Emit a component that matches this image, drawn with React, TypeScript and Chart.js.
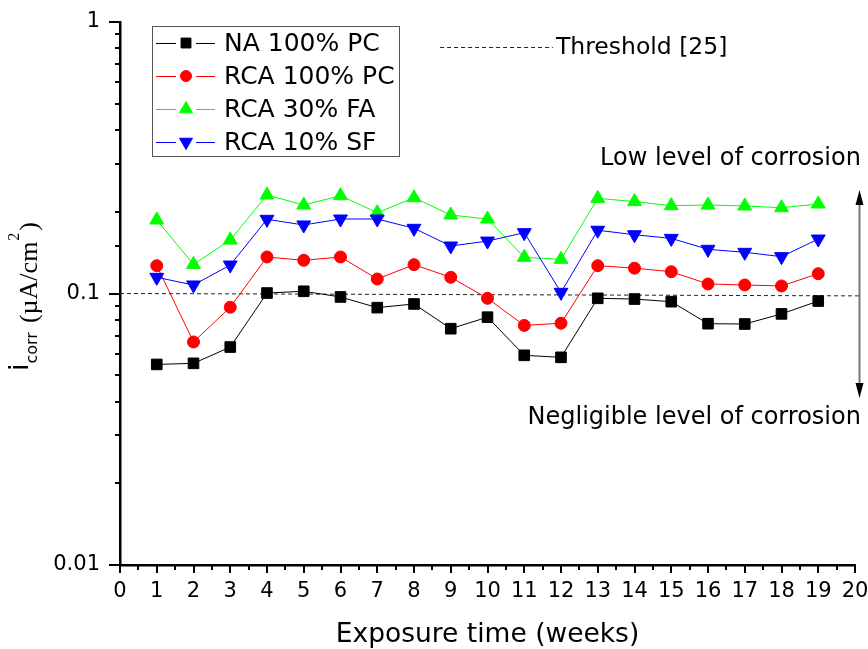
import { useEffect, useRef } from 'react';
import { Chart, registerables } from 'chart.js';
import { drawPoint } from 'chart.js/helpers';

Chart.register(...registerables);

// ---------- data ----------
const WEEKS = [1, 2, 3, 4, 5, 6, 7, 8, 9, 10, 11, 12, 13, 14, 15, 16, 17, 18, 19];
const NA_100_PC = [0.0548, 0.0553, 0.0635, 0.1004, 0.1019, 0.0971, 0.0887, 0.0915, 0.0742, 0.0818, 0.0592, 0.0582, 0.096, 0.0954, 0.0933, 0.0774, 0.0772, 0.0841, 0.0938];
const RCA_100_PC = [0.1266, 0.0663, 0.089, 0.1363, 0.1325, 0.1363, 0.1131, 0.1277, 0.1147, 0.096, 0.0763, 0.0777, 0.1266, 0.124, 0.1203, 0.1084, 0.1075, 0.1066, 0.1183];
const RCA_30_FA = [0.1865, 0.128, 0.1574, 0.2305, 0.2118, 0.2292, 0.1984, 0.2253, 0.1946, 0.1881, 0.1359, 0.1336, 0.2241, 0.218, 0.2106, 0.2118, 0.2101, 0.207, 0.2136];
const RCA_10_SF = [0.1147, 0.1075, 0.1273, 0.1876, 0.1788, 0.1881, 0.1881, 0.1738, 0.1496, 0.156, 0.1675, 0.101, 0.171, 0.1646, 0.1596, 0.1455, 0.1418, 0.1367, 0.1587];
const THRESHOLD_X = [0, 20.15];
const THRESHOLD_Y = [0.1, 0.098];

const SERIES_LABELS = ['NA 100% PC', 'RCA 100% PC', 'RCA 30% FA', 'RCA 10% SF'];
const X_TICKS = [0, 1, 2, 3, 4, 5, 6, 7, 8, 9, 10, 11, 12, 13, 14, 15, 16, 17, 18, 19, 20];
const Y_TICK_VALUES = [0.01, 0.1, 1];
const Y_TICK_LABELS = ['0.01', '0.1', '1'];

// annotation anchors in data units
const THRESHOLD_LABEL = 'Threshold [25]';
const THRESHOLD_SAMPLE_X = [8.71, 11.78];
const THRESHOLD_SAMPLE_Y = 0.812;
const LOW_LABEL = 'Low level of corrosion';
const LOW_LABEL_Y = 0.313;
const NEG_LABEL = 'Negligible level of corrosion';
const NEG_LABEL_Y = 0.0348;
const LABEL_RIGHT_X = 20.16;
const ARROW_X = 20.11;
const ARROW_Y = [0.2405, 0.0412];

const FONT = 'DejaVu Sans';

const isDecade = (v: number) => {
  const l = Math.log10(v);
  return Math.abs(l - Math.round(l)) < 1e-6;
};

const pts = (ys: number[]) => WEEKS.map((w, i) => ({ x: w, y: ys[i] }));

const tickPlugin = {
  id: 'tickMarks',
  afterDraw(chart: any) {
    const { ctx, chartArea, scales } = chart;
    const x = scales.x;
    const y = scales.y;
    ctx.save();
    ctx.strokeStyle = '#000';
    ctx.lineWidth = 2;
    ctx.beginPath();
    y.ticks.forEach((t: any) => {
      const py = Math.round(y.getPixelForValue(t.value));
      const len = isDecade(t.value) ? 11 : 5;
      ctx.moveTo(chartArea.left - len, py);
      ctx.lineTo(chartArea.left, py);
    });
    X_TICKS.forEach((v) => {
      const px = Math.round(x.getPixelForValue(v));
      ctx.moveTo(px, chartArea.bottom);
      ctx.lineTo(px, chartArea.bottom + 8);
      if (v < X_TICKS[X_TICKS.length - 1]) {
        const pm = Math.round(x.getPixelForValue(v + 0.5));
        ctx.moveTo(pm, chartArea.bottom);
        ctx.lineTo(pm, chartArea.bottom + 5);
      }
    });
    ctx.stroke();
    ctx.restore();
  },
};

const yTitlePlugin = {
  id: 'yTitle',
  afterDraw(chart: any) {
    const { ctx, chartArea } = chart;
    const cy = (chartArea.top + chartArea.bottom) / 2 + 3;
    const parts = [
      { t: 'i', f: `27px "${FONT}"`, dy: 0, gap: 0 },
      { t: 'corr', f: `16px "${FONT}"`, dy: 9, gap: 0 },
      { t: '(\u00b5A/cm', f: '26px "Liberation Serif"', dy: 9, gap: 9 },
      { t: '2', f: '16px "Liberation Serif"', dy: -9, gap: 1 },
      { t: ')', f: '26px "Liberation Serif"', dy: 9, gap: 2 },
    ];
    ctx.save();
    let total = 0;
    const widths = parts.map((p) => {
      ctx.font = p.f;
      const w = ctx.measureText(p.t).width;
      total += w + p.gap;
      return w;
    });
    ctx.translate(28, cy);
    ctx.rotate(-Math.PI / 2);
    ctx.fillStyle = '#000';
    ctx.textBaseline = 'alphabetic';
    ctx.textAlign = 'left';
    let u = -total / 2;
    parts.forEach((p, i) => {
      u += p.gap;
      ctx.font = p.f;
      ctx.fillText(p.t, u, p.dy);
      u += widths[i];
    });
    ctx.restore();
  },
};

const legendPlugin = {
  id: 'boxLegend',
  afterDraw(chart: any) {
    const { ctx, chartArea } = chart;
    const x0 = chartArea.left + 32;
    const y0 = chartArea.top + 4;
    ctx.save();
    ctx.strokeStyle = '#555';
    ctx.lineWidth = 1;
    ctx.strokeRect(x0 + 0.5, y0 + 0.5, 247, 130);
    SERIES_LABELS.forEach((label, i) => {
      const ds = chart.data.datasets[i];
      const cy = y0 + 17 + i * 33;
      const mx = x0 + 34;
      ctx.strokeStyle = ds.borderColor;
      ctx.lineWidth = 1;
      ctx.beginPath();
      ctx.moveTo(x0 + 4, cy + 0.5);
      ctx.lineTo(mx - 10, cy + 0.5);
      ctx.moveTo(mx + 10, cy + 0.5);
      ctx.lineTo(x0 + 63, cy + 0.5);
      ctx.stroke();
      ctx.fillStyle = ds.backgroundColor;
      ctx.strokeStyle = ds.backgroundColor;
      drawPoint(ctx, { pointStyle: ds.pointStyle, radius: ds.pointRadius - 0.5, rotation: ds.pointRotation || 0, borderWidth: 1 } as any, mx, cy);
      ctx.fillStyle = '#000';
      ctx.font = `25px "${FONT}"`;
      ctx.textBaseline = 'middle';
      ctx.textAlign = 'left';
      ctx.fillText(label, x0 + 72, cy + 1);
    });
    ctx.restore();
  },
};

const annotationPlugin = {
  id: 'annotations',
  afterDraw(chart: any) {
    const { ctx, scales } = chart;
    const x = scales.x;
    const y = scales.y;
    ctx.save();
    // threshold sample
    const sy = Math.round(y.getPixelForValue(THRESHOLD_SAMPLE_Y)) + 0.5;
    const sx0 = x.getPixelForValue(THRESHOLD_SAMPLE_X[0]);
    const sx1 = x.getPixelForValue(THRESHOLD_SAMPLE_X[1]);
    ctx.strokeStyle = '#222';
    ctx.lineWidth = 1;
    ctx.setLineDash([4, 3]);
    ctx.beginPath();
    ctx.moveTo(sx0, sy);
    ctx.lineTo(sx1, sy);
    ctx.stroke();
    ctx.setLineDash([]);
    ctx.fillStyle = '#000';
    ctx.font = `23.5px "${FONT}"`;
    ctx.textBaseline = 'middle';
    ctx.textAlign = 'left';
    ctx.fillText(THRESHOLD_LABEL, sx1 + 3, sy);
    // right labels
    ctx.font = `24px "${FONT}"`;
    ctx.textAlign = 'right';
    const rx = x.getPixelForValue(LABEL_RIGHT_X);
    ctx.fillText(LOW_LABEL, rx, y.getPixelForValue(LOW_LABEL_Y));
    ctx.fillText(NEG_LABEL, rx, y.getPixelForValue(NEG_LABEL_Y));
    // double arrow
    const ax = Math.round(x.getPixelForValue(ARROW_X)) + 0.5;
    const at = y.getPixelForValue(ARROW_Y[0]);
    const ab = y.getPixelForValue(ARROW_Y[1]);
    ctx.strokeStyle = '#777';
    ctx.lineWidth = 2;
    ctx.beginPath();
    ctx.moveTo(ax, at + 8);
    ctx.lineTo(ax, ab - 8);
    ctx.stroke();
    ctx.fillStyle = '#000';
    ctx.beginPath();
    ctx.moveTo(ax, at);
    ctx.lineTo(ax - 4, at + 15);
    ctx.lineTo(ax + 4, at + 15);
    ctx.closePath();
    ctx.moveTo(ax, ab);
    ctx.lineTo(ax - 4, ab - 15);
    ctx.lineTo(ax + 4, ab - 15);
    ctx.closePath();
    ctx.fill();
    ctx.restore();
  },
};

export default function App() {
  const ref = useRef<HTMLCanvasElement>(null);
  useEffect(() => {
    const mk = (data: number[], color: string, style: string, radius: number, order: number, rotation = 0) => ({
      data: pts(data),
      borderColor: color,
      backgroundColor: color,
      borderWidth: 1,
      pointStyle: style,
      pointRadius: radius,
      pointRotation: rotation,
      pointBorderWidth: 1,
      pointBorderColor: color,
      pointBackgroundColor: color,
      tension: 0,
      order,
    });
    const chart = new Chart(ref.current!, {
      type: 'line',
      data: {
        datasets: [
          mk(NA_100_PC, '#000000', 'rect', 7.5, 4),
          mk(RCA_100_PC, '#ff0000', 'circle', 6, 3),
          mk(RCA_30_FA, '#00ff00', 'triangle', 8, 2),
          mk(RCA_10_SF, '#0000ff', 'triangle', 8, 1, 180),
          {
            data: THRESHOLD_X.map((v, i) => ({ x: v, y: THRESHOLD_Y[i] })),
            borderColor: '#222',
            borderWidth: 1,
            borderDash: [4, 3],
            pointRadius: 0,
            clip: false,
            order: 5,
          } as any,
        ],
      },
      options: {
        animation: false,
        responsive: false,
        layout: { padding: { top: 22, right: 13, left: 0, bottom: 0 } },
        plugins: { legend: { display: false }, tooltip: { enabled: false } },
        scales: {
          x: {
            type: 'linear',
            min: 0,
            max: 20,
            afterFit: (s: any) => { s.height = 84; s.paddingLeft = 0; s.paddingRight = 0; },
            afterBuildTicks: (s: any) => { s.ticks = X_TICKS.map((v) => ({ value: v })); },
            ticks: {
              autoSkip: false,
              maxRotation: 0,
              padding: 14,
              color: '#000',
              font: { family: FONT, size: 21 },
              callback: (v: any) => String(v),
            },
            grid: { display: false, drawTicks: false },
            border: { display: true, color: '#000', width: 2.5 },
            title: { display: true, text: 'Exposure time (weeks)', color: '#000', font: { family: FONT, size: 26.5 }, padding: { top: 0, bottom: -2 } },
          },
          y: {
            type: 'logarithmic',
            min: 0.01,
            max: 1,
            afterFit: (s: any) => { s.width = 120; s.paddingTop = 0; s.paddingBottom = 0; },
            ticks: {
              autoSkip: false,
              padding: 20,
              color: '#000',
              font: { family: FONT, size: 21 },
              callback: (v: any) => {
                const idx = Y_TICK_VALUES.findIndex((t) => Math.abs(t - Number(v)) < 1e-9);
                return idx >= 0 ? Y_TICK_LABELS[idx] : '';
              },
            },
            grid: { display: false, drawTicks: false },
            border: { display: true, color: '#000', width: 2.5 },
          },
        },
      } as any,
      plugins: [tickPlugin, yTitlePlugin, legendPlugin, annotationPlugin],
    } as any);
    return () => chart.destroy();
  }, []);
  return (
    <div style={{ position: 'fixed', left: 0, top: 0, width: 868, height: 649, background: '#fff' }}>
      <canvas ref={ref} width={868} height={649} style={{ display: 'block' }} />
    </div>
  );
}
